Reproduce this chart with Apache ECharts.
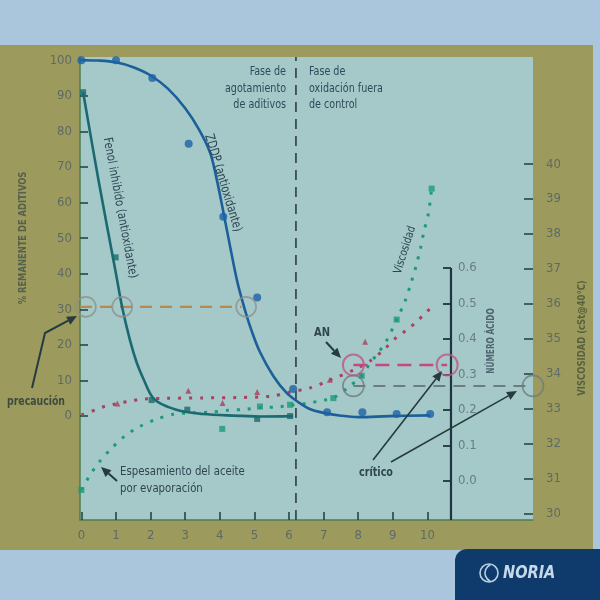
<!DOCTYPE html>
<html><head><meta charset="utf-8">
<script src="https://cdn.jsdelivr.net/npm/echarts@6/dist/echarts.min.js"></script>
<style>html,body{margin:0;padding:0;background:#a9c6dd;}#c{width:600px;height:600px;}</style>
</head><body><div id="c"></div>
<script>
// ---- tick labels ----
const xTicks = [0,1,2,3,4,5,6,7,8,9,10];
const leftTicks = [0,10,20,30,40,50,60,70,80,90,100];
const viscTicks = [30,31,32,33,34,35,36,37,38,39,40];
const anTicks = [0,0.1,0.2,0.3,0.4,0.5,0.6];

// ---- ZDDP (antioxidante), % remanente ----
const zddpCurve = [[0,100],[0.5,99.9],[1,99.4],[1.5,98],[2,95.7],[2.5,92],[3,86.5],[3.4,80.5],[3.72,74],[3.9,67],[4.1,57.5],[4.3,47.5],[4.5,38],[4.7,30.7],[4.9,24.5],[5.16,18],[5.55,11.2],[5.93,6.5],[6.3,3.7],[6.6,2.0],[7.0,0.9],[7.5,0.1],[8.0,-0.3],[8.9,0],[10.08,0.2]];
const zddpPoints = [[0,100],[1,100],[2.05,95],[3.1,76.5],[4.1,56],[5.08,33.3],[6.12,7.6],[7.1,1.1],[8.12,1.1],[9.11,0.6],[10.08,0.6]];

// ---- Fenol inhibido (antioxidante), % remanente ----
const fenolCurve = [[0.05,91],[0.5,66],[1.0,40],[1.18,30.5],[1.4,21.5],[1.6,15],[1.8,10.3],[2.08,5],[2.5,2.6],[3,1.2],[3.5,0.6],[4.2,0.2],[5.16,-0.1],[6.12,0]];
const fenolPoints = [[0.05,91],[0.99,44.6],[2.03,4.5],[3.06,1.8],[5.08,-0.8],[6.03,0]];

// ---- Número ácido (AN) ----
const anCurve = [[0,0.186],[0.4,0.2],[0.7,0.211],[1.04,0.218],[1.4,0.225],[1.8,0.231],[2.5,0.233],[3.5,0.234],[4.5,0.235],[5.5,0.239],[6.0,0.25],[6.6,0.262],[7.18,0.284],[7.96,0.317],[8.34,0.338],[8.73,0.369],[9.11,0.405],[9.4,0.425],[9.69,0.449],[9.98,0.477],[10.17,0.494]];
const anPoints = [[1.04,0.218],[3.09,0.254],[4.08,0.22],[5.08,0.251],[7.18,0.285],[8.2,0.392]];

// ---- Viscosidad (cSt@40°C) ----
const viscCurve = [[0,30.67],[0.25,31.1],[0.54,31.5],[0.88,31.87],[1.26,32.22],[1.69,32.49],[2.18,32.7],[2.66,32.84],[3.2,32.88],[3.72,32.9],[4.25,32.95],[4.73,32.98],[5.16,33.03],[5.74,33.05],[6.03,33.1],[6.5,33.15],[7.0,33.24],[7.28,33.3],[7.7,33.6],[8.1,33.94],[8.34,34.3],[8.58,34.6],[8.82,34.95],[9.11,35.55],[9.35,36.07],[9.52,36.58],[9.67,37.08],[9.8,37.6],[9.9,38.08],[10.03,38.6],[10.12,39.3]];
const viscPoints = [[0,30.67],[4.07,32.42],[5.16,33.06],[6.03,33.11],[7.28,33.3],[8.1,33.94],[9.11,35.55],[10.12,39.3]];

// ---- reference levels ----
const phaseX = 6.2;
const caution = 30.7;
const cautionX = [0.13,1.18,4.76];
const criticalX = 7.86;
const anCritical = 0.327;
const viscCritical = 33.65;
const anAxisX = 10.68;

const FONT = "'DejaVu Sans Condensed','Liberation Sans',sans-serif";
const X0 = -0.04, X1 = 13.05, Y0 = -29.2, Y1 = 100.9, V0 = 29.81, V1 = 43.07, A0 = -0.1099, A1 = 1.1944;

function arrow(pts, color, w) {
  const n = pts.length;
  const [x1, y1] = pts[n-2], [x2, y2] = pts[n-1];
  const a = Math.atan2(y2-y1, x2-x1), L = 10, W = 4.5;
  const bx = x2 - L*Math.cos(a), by = y2 - L*Math.sin(a);
  const line = pts.slice(0, n-1).concat([[bx, by]]);
  return [
    {type:'polyline', shape:{points:line}, style:{stroke:color, lineWidth:w, fill:null}, z:20},
    {type:'polygon', shape:{points:[[x2,y2],[bx+W*Math.sin(a), by-W*Math.cos(a)],[bx-W*Math.sin(a), by+W*Math.cos(a)]]}, style:{fill:color}, z:20}
  ];
}
function txt(x, y, s, o) {
  o = o || {};
  return {type:'text', x:x, y:y, rotation:o.rot||0, scaleX:o.sx||1, z:o.z||21,
    style:{text:s, fill:o.color||'#2f4650', font:(o.weight||'normal')+' '+(o.size||13)+'px '+FONT,
      align:o.align||'left', verticalAlign:o.va||'middle', lineHeight:o.lh||16}};
}

const dark = '#263b40';
const graphics = [
  {type:'rect', shape:{x:0,y:45,width:593,height:505}, style:{fill:'#9c9b5d'}, z:-10},
  {type:'rect', shape:{x:455,y:549,width:145,height:51,r:[12,0,0,0]}, style:{fill:'#0e3b6c'}, z:30},
  {type:'circle', shape:{cx:489,cy:573,r:9}, style:{stroke:'#b9cfe3',lineWidth:1.6,fill:null}, z:31},
  {type:'arc', shape:{cx:494,cy:573,r:9,startAngle:2.0,endAngle:4.3}, style:{stroke:'#b9cfe3',lineWidth:1.6,fill:null}, z:31},
  txt(503,574,'NORIA',{color:'#c6d9ea', weight:'italic bold', size:17, sx:0.95, z:32}),
  txt(286,63.5,'Fase de\nagotamiento\nde aditivos',{align:'right', va:'top', color:'#2f4a5a', lh:16.5, sx:0.82}),
  txt(309,63.5,'Fase de\noxidación fuera\nde control',{align:'left', va:'top', color:'#2f4a5a', lh:16.5, sx:0.82}),
  txt(120,208,'Fenol inhibido (antioxidante)',{align:'center', rot:-79.4*Math.PI/180, size:12.5, color:'#2c4452', sx:0.89}),
  txt(223,183,'ZDDP (antioxidante)',{align:'center', rot:-73*Math.PI/180, size:13, color:'#2c4452', sx:0.85}),
  txt(405,250,'Viscosidad',{align:'center', rot:72.6*Math.PI/180, size:11.5, color:'#2c4452', sx:0.9}),
  txt(23,238,'% REMANENTE DE ADITIVOS',{align:'center', rot:Math.PI/2, size:10, weight:'bold', color:'#56614c', sx:0.93}),
  txt(491,341,'NÚMERO ÁCIDO',{align:'center', rot:Math.PI/2, size:10, weight:'bold', color:'#4f6470', sx:0.82}),
  txt(582,338,'VISCOSIDAD (cSt@40°C)',{align:'center', rot:Math.PI/2, size:10, weight:'bold', color:'#55613f', sx:0.94}),
  txt(36,402,'precaución',{align:'center', size:13, weight:'bold', color:'#3d4b3e', sx:0.8}),
  txt(120,463.5,'Espesamiento del aceite\npor evaporación',{align:'left', va:'top', size:13, color:'#2f4650', lh:16.5, sx:0.87}),
  txt(322,333,'AN',{align:'center', size:13, weight:'bold', color:'#2f4650', sx:0.85}),
  txt(376,473,'crítico',{align:'center', size:13, weight:'bold', color:'#2f4650', sx:0.82})
].concat(
  arrow([[32,388],[45,333],[77,316]], dark, 2),
  arrow([[117,481],[101,467]], dark, 2),
  arrow([[326,342],[341,358]], dark, 2),
  arrow([[373,460],[442,371]], dark, 1.6),
  arrow([[391,462],[517,391]], dark, 1.6)
);

function lineS(data, yIdx, color, width, type, extra) {
  return Object.assign({type:'line', data:data, yAxisIndex:yIdx, symbol:'none', silent:true, clip:false,
    lineStyle:{color:color, width:width, type:type, cap:'butt'}, z:3}, extra||{});
}
function dots(data, yIdx, symbol, size, color, extra) {
  return Object.assign({type:'scatter', data:data, yAxisIndex:yIdx, symbol:symbol, symbolSize:size, clip:false,
    itemStyle:{color:color}, z:5}, extra||{});
}
function rings(data, yIdx, color, size, bw) {
  return {type:'scatter', data:data, yAxisIndex:yIdx, symbol:'circle', symbolSize:size, clip:false,
    itemStyle:{color:'rgba(0,0,0,0)', borderColor:color, borderWidth:bw}, z:6};
}

const axisLab = {color:'#5e6a64', fontSize:13, fontFamily:FONT};
const tickStyle = {color:'#2b4646', width:1.6};

const option = {
  backgroundColor:'#a9c6dd',
  animation:false,
  grid:{left:80, right:67, top:57, bottom:80, show:true, backgroundColor:'#a4c9c8', borderWidth:0},
  xAxis:{type:'value', min:X0, max:X1,
    axisLine:{show:true, onZero:false, lineStyle:{color:'#4f7d4f', width:1.5}},
    axisTick:{show:true, inside:true, length:8, customValues:xTicks, lineStyle:tickStyle},
    axisLabel:Object.assign({customValues:xTicks, margin:9}, axisLab),
    splitLine:{show:false}},
  yAxis:[
    {type:'value', min:Y0, max:Y1, position:'left',
      axisLine:{show:true, onZero:false, lineStyle:{color:'#4f7d4f', width:1.5}},
      axisTick:{show:true, inside:true, length:8, customValues:leftTicks, lineStyle:tickStyle},
      axisLabel:Object.assign({customValues:leftTicks, margin:8}, axisLab),
      splitLine:{show:false}},
    {type:'value', min:V0, max:V1, position:'right',
      axisLine:{show:false, onZero:false},
      axisTick:{show:true, inside:true, length:9, customValues:viscTicks, lineStyle:tickStyle},
      axisLabel:Object.assign({customValues:viscTicks, margin:13}, axisLab),
      splitLine:{show:false}},
    {type:'value', min:A0, max:A1, position:'right', offset:-82,
      axisLine:{show:false, onZero:false},
      axisTick:{show:true, inside:true, length:8, customValues:anTicks, lineStyle:{color:'#1f3440', width:1.8}},
      axisLabel:Object.assign({customValues:anTicks, margin:7, formatter:v=>v.toFixed(1)}, axisLab, {color:'#6a7c84'}),
      splitLine:{show:false}}
  ],
  graphic:graphics,
  series:[
    lineS([[phaseX,Y0],[phaseX,Y1]], 0, '#3c4c52', 1.8, [10,7]),
    lineS([[X0,caution],[4.62,caution]], 0, '#b7894d', 2.2, [12,8]),
    lineS([[anAxisX,0.6],[anAxisX,A0]], 2, '#1f3440', 2.2, 'solid'),
    lineS(viscCurve, 1, '#1c9a7a', 3, [3,8], {smooth:0.3}),
    lineS(anCurve, 2, '#a8405e', 3, [3,8], {smooth:0.3}),
    lineS(fenolCurve, 0, '#1b6a72', 2.6, 'solid', {smooth:0.35}),
    lineS(zddpCurve, 0, '#1d5f98', 2.6, 'solid', {smooth:0.35}),
    lineS([[criticalX,anCritical],[10.57,anCritical]], 2, '#c24a82', 2.5, [14,8]),
    lineS([[criticalX,viscCritical],[X1,viscCritical]], 1, '#6f7c7e', 2, [12,8]),
    dots(viscPoints, 1, 'rect', 6, '#1c9a7a'),
    dots(anPoints, 2, 'triangle', 6, '#a8405e'),
    dots(fenolPoints, 0, 'rect', 6, '#1b6a6c'),
    dots(zddpPoints, 0, 'circle', 8, '#1d62a8'),
    rings(cautionX.map(x=>[x,caution]), 0, '#8d908a', 20, 1.6),
    rings([[criticalX,anCritical],[10.57,anCritical]], 2, '#c05585', 21, 2),
    rings([[criticalX,viscCritical],[X1,viscCritical]], 1, '#6e7a7a', 21, 1.6)
  ]
};
const chart = echarts.init(document.getElementById('c'), null, {renderer:'canvas'});
chart.setOption(option);
</script></body></html>
